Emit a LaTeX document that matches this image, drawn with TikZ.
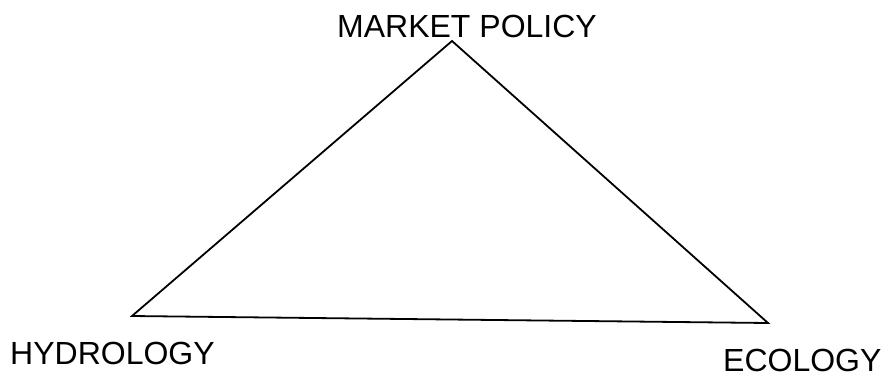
\documentclass[tikz,border=0pt]{standalone}
\usepackage{fontspec}
\setmainfont{Liberation Sans}
\usetikzlibrary{positioning}

\begin{document}
\begin{tikzpicture}[x=1pt, y=-1pt,
    corner/.style={font=\fontsize{32}{32}\selectfont, inner sep=0pt, anchor=base west},
    side/.style={line width=1.8pt, line join=miter},
]
\useasboundingbox (0,0) rectangle (883,376);

% Corners of the triangle
\coordinate (top)   at (452,41);
\coordinate (left)  at (132,316);
\coordinate (right) at (768,323);

% Labels
\node[corner] (market) at (337,37)  {MARKET POLICY};
\node[corner] (hydro)  at (10,364)  {HYDROLOGY};
\node[corner] (eco)    at (723,371) {ECOLOGY};

% Sides
\draw[side] (top) -- (right) -- (left) -- cycle;

\end{tikzpicture}
\end{document}
